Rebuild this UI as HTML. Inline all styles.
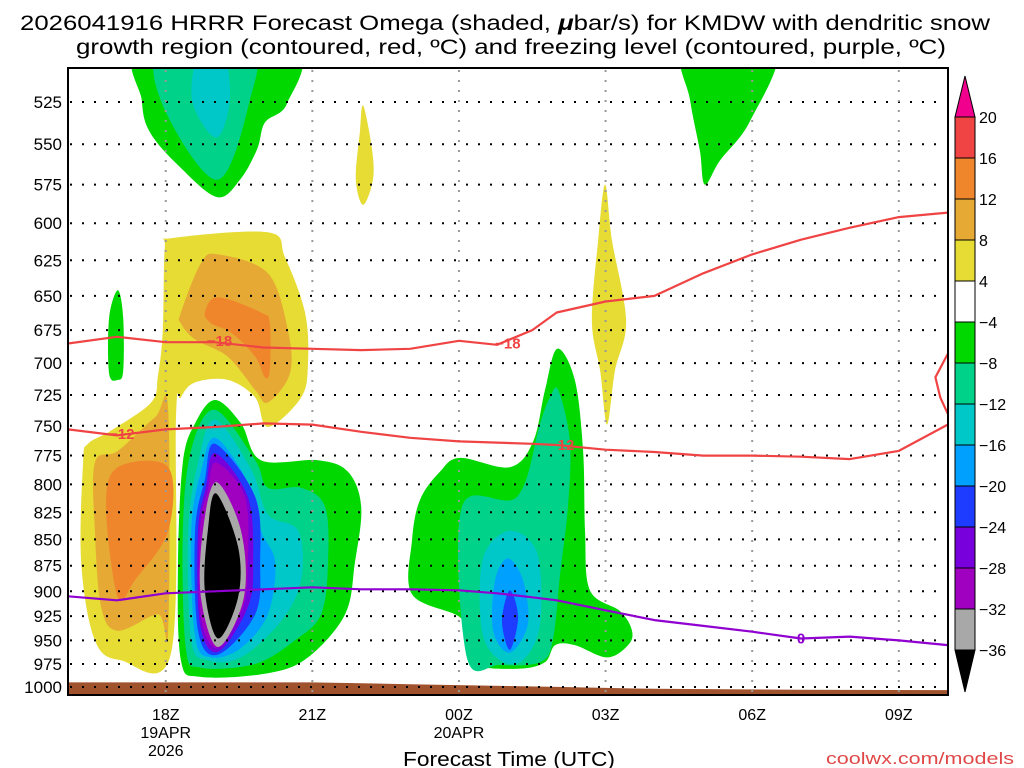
<!DOCTYPE html>
<html><head><meta charset="utf-8"><style>
html,body{margin:0;padding:0;background:#fff;width:1024px;height:768px;overflow:hidden}
svg text{font-family:"Liberation Sans",sans-serif}
</style></head><body>
<svg id="chart" width="1024" height="768" xmlns="http://www.w3.org/2000/svg">
<defs><clipPath id="plotclip"><rect x="68" y="68" width="880" height="627"/></clipPath></defs>
<text x="20" y="30" font-size="21" textLength="970" lengthAdjust="spacingAndGlyphs">2026041916 HRRR Forecast Omega (shaded, <tspan font-weight="bold" font-style="italic">μ</tspan>bar/s) for KMDW with dendritic snow</text>
<text x="76" y="54" font-size="21" textLength="870" lengthAdjust="spacingAndGlyphs">growth region (contoured, red, ºC) and freezing level (contoured, purple, ºC)</text>
<g id="shades" clip-path="url(#plotclip)"></g>
<g id="grid"></g>
<g id="lines" clip-path="url(#plotclip)"></g>
<rect x="68" y="68" width="880" height="627" fill="none" stroke="#000" stroke-width="2"/>
<g id="yticks"></g>
<g id="xticks"></g>
<text x="403" y="766" font-size="20" textLength="212" lengthAdjust="spacingAndGlyphs">Forecast Time (UTC)</text>
<text x="826" y="764" font-size="17" fill="#e04848" font-family="Liberation Mono, monospace" textLength="188" lengthAdjust="spacingAndGlyphs">coolwx.com/models</text>
<g id="cbar"></g>
</svg>
<script>
const NS="http://www.w3.org/2000/svg";
const hourMin=16, pMin=525;
function X(h){return 68+(h-hourMin)*48.87;}
function Y(p){return 102+907.8*Math.log(p/pMin);}
const pressureTicks=[525,550,575,600,625,650,675,700,725,750,775,800,825,850,875,900,925,950,975,1000];
const timeTicks=[18,21,24,27,30,33];
const timeLabels=["18Z","21Z","00Z","03Z","06Z","09Z"];
const dateLabels=[["19APR","2026"],[],["20APR"],[],[],[]];
const cbarLabels=["20","16","12","8","4","−4","−8","−12","−16","−20","−24","−28","−32","−36"];
const cbarColors=["#f04444","#f0862c","#e6aa34","#e6dc34","#ffffff","#00d800","#00d28a","#00c8c8","#00a0ff","#1e3cff","#7800dc","#a000c0","#a8a8a8"];
const shadeColors=["#e6dc34","#e6aa34","#f0862c","#00d800","#00d28a","#00c8c8","#00a0ff","#1e3cff","#7800dc","#a000c0","#a8a8a8","#000000"];
const yellowMain=[[16.31,781],[16.41,765],[16.88,754],[17.70,731],[17.84,710],[17.94,675],[17.98,616],[18.11,610],[20.09,606],[20.44,623],[20.85,662],[20.91,700],[20.77,727],[20.09,751],[19.83,727],[19.27,713],[18.60,715],[18.31,727],[18.21,743],[18.11,963],[17.08,971],[16.55,950],[16.27,872]];
const yellowTop=[[22.04,527],[22.22,553],[22.24,572],[22.04,588],[21.89,572],[21.97,543]];
const yellowRight=[[26.99,575],[27.13,611],[27.42,668],[27.19,706],[27.03,749],[26.89,706],[26.72,668],[26.85,611]];
const dkYellowUpper=[[18.31,662],[18.72,627],[19.07,621],[20.09,634],[20.50,675],[20.54,708],[20.09,731],[19.83,721],[19.27,695],[18.60,682],[18.31,670]];
const dkYellowLower=[[16.55,781],[17.02,771],[17.78,743],[18.05,737],[18.05,940],[17.84,923],[17.02,940],[16.68,916],[16.55,842]];
const orangeUpper=[[18.80,662],[19.07,651],[19.95,662],[20.13,670],[20.13,705],[20.03,711],[19.83,695],[19.34,677],[18.93,670]];
const orangeLower=[[17.02,785],[18.05,785],[18.05,842],[17.37,889],[17.02,906],[16.78,820]];
const greenSliver=[[17.02,646],[17.13,666],[17.13,706],[17.02,713],[16.84,708],[16.84,666]];
const greenTop=[[17.53,495],[17.51,524],[17.68,543],[18.29,564],[19.05,583],[19.52,572],[19.87,553],[20.03,537],[20.48,526],[20.60,495]];
const tealTop=[[17.92,495],[17.94,527],[19.05,572],[19.72,524],[19.72,495]];
const cyanTop=[[18.70,495],[18.54,524],[19.03,546],[19.31,524],[19.17,495]];
const greenTopRight=[[28.63,495],[28.73,524],[28.93,554],[29.03,575],[29.34,560],[29.96,536],[30.47,495]];
const greenMain=[[19.01,729],[19.54,748],[19.95,779],[21.12,779],[21.73,789],[22.00,820],[21.87,872],[21.67,923],[20.91,968],[20.09,985],[18.72,989],[18.31,971],[18.25,872],[18.35,781],[18.60,748]];
const tealMain=[[19.01,737],[19.83,779],[20.09,803],[20.77,803],[21.26,820],[21.32,872],[21.18,923],[20.64,950],[19.83,975],[18.72,979],[18.41,958],[18.35,842],[18.52,770]];
const cyanMain=[[19.01,745],[19.75,787],[20.09,827],[20.71,842],[20.77,889],[20.36,930],[19.54,968],[18.86,971],[18.52,950],[18.46,842],[18.66,781]];
const ltBlueMain=[[19.01,760],[19.68,798],[19.95,842],[20.24,872],[20.09,923],[19.54,958],[18.93,968],[18.60,946],[18.52,842],[18.72,789]];
const blueMain=[[19.01,765],[19.83,811],[19.93,872],[19.83,923],[19.07,965],[18.66,940],[18.60,842],[18.80,796]];
const purpleMain=[[19.01,773],[19.68,811],[19.79,872],[19.68,916],[19.07,962],[18.70,933],[18.66,842],[18.82,803]];
const magentaMain=[[19.03,781],[19.62,811],[19.68,872],[19.58,916],[19.07,958],[18.72,926],[18.70,842],[18.86,805]];
const grayMain=[[19.03,798],[19.54,842],[19.60,906],[19.07,957],[18.72,906],[18.76,842]];
const blackMain=[[19.03,808],[19.48,857],[19.48,906],[19.07,948],[18.80,899],[18.86,842]];
const greenRight=[[26.01,689],[26.37,713],[26.54,771],[26.58,842],[26.68,899],[27.30,920],[27.54,940],[27.46,955],[27.03,968],[26.37,955],[25.97,955],[25.76,973],[25.25,980],[24.33,976],[24.16,950],[24.02,926],[23.04,903],[23.04,851],[23.20,814],[23.61,789],[24.02,777],[25.04,785],[25.52,763],[25.76,721]];
const tealRight=[[26.03,721],[26.27,763],[26.23,820],[26.07,883],[25.92,950],[25.66,973],[24.84,976],[24.16,968],[24.06,820],[25.19,811],[25.66,748],[25.86,727]];
const cyanRight=[[25.04,842],[25.60,863],[25.66,933],[25.31,971],[24.84,971],[24.47,940],[24.49,868]];
const ltBlueRight=[[25.00,868],[25.31,889],[25.41,933],[25.04,963],[24.70,940],[24.74,889]];
const blueRight=[[25.04,899],[25.21,926],[25.04,960],[24.88,930]];
const lineHours=[16,17,18,19,20,21,22,23,24,24.78,25.5,26,27,28,29,30,31,32,33,34];
const minus18P=[685,680,684,684,688,689,690,689,683,686,675,662,654,650,634,621,611,603,596,593];
const minus18Edge=[[34,693],[33.75,711],[33.85,727],[34,740]];
const minus12P=[753,758,753,751,748,749,755,760,763,764,765,766,770,772,775,775,776,778,771,749];
const freezeP=[905,909,902,900,898,896,898,898,899,902,906,909,919,929,935,941,948,946,950,955];
const terrainHours=[16,21,22,23,24,25,26,27,28,31,34];
const terrainP=[995,995,996,997,998,999,1000,1001,1002,1003,1003.5];

function el(tag,attrs,parent){const e=document.createElementNS(NS,tag);for(const k in attrs)e.setAttribute(k,attrs[k]);parent.appendChild(e);return e;}
function smoothClosed(pts){
  const P=pts.map(d=>[X(d[0]),Y(d[1])]);const n=P.length;
  let s="M"+P[0][0].toFixed(1)+","+P[0][1].toFixed(1);
  for(let i=0;i<n;i++){
    const p0=P[(i-1+n)%n],p1=P[i],p2=P[(i+1)%n],p3=P[(i+2)%n];
    const c1=[p1[0]+(p2[0]-p0[0])/6,p1[1]+(p2[1]-p0[1])/6];
    const c2=[p2[0]-(p3[0]-p1[0])/6,p2[1]-(p3[1]-p1[1])/6];
    s+="C"+c1[0].toFixed(1)+","+c1[1].toFixed(1)+" "+c2[0].toFixed(1)+","+c2[1].toFixed(1)+" "+p2[0].toFixed(1)+","+p2[1].toFixed(1);
  }
  return s+"Z";
}
const shadesG=document.getElementById('shades');
const regions=[
 ["yellow-region-main",yellowMain,0],["yellow-region-top",yellowTop,0],["yellow-region-right",yellowRight,0],
 ["dark-yellow-region-upper",dkYellowUpper,1],["dark-yellow-region-lower",dkYellowLower,1],
 ["orange-region-upper",orangeUpper,2],["orange-region-lower",orangeLower,2],
 ["green-region-sliver",greenSliver,3],["green-region-top",greenTop,3],["teal-region-top",tealTop,4],["cyan-region-top",cyanTop,5],
 ["green-region-top-right",greenTopRight,3],
 ["green-region-main",greenMain,3],["teal-region-main",tealMain,4],["cyan-region-main",cyanMain,5],["lightblue-region-main",ltBlueMain,6],
 ["blue-region-main",blueMain,7],["purple-region-main",purpleMain,8],["magenta-region-main",magentaMain,9],["gray-region-main",grayMain,10],["black-region-main",blackMain,11],
 ["green-region-right",greenRight,3],["teal-region-right",tealRight,4],["cyan-region-right",cyanRight,5],["lightblue-region-right",ltBlueRight,6],["blue-region-right",blueRight,7]
];
regions.forEach(r=>{
  const e=el('path',{d:smoothClosed(r[1]),fill:shadeColors[r[2]]},shadesG);
  
  
});
let td="M"+X(terrainHours[0])+","+Y(1015);
terrainHours.forEach((h,i)=>{td+="L"+X(h).toFixed(1)+","+Y(terrainP[i]).toFixed(1);});
td+="L"+X(terrainHours[terrainHours.length-1])+","+Y(1015)+"Z";
const terr=el('path',{d:td,fill:"#a0522d"},shadesG);


const gridG=document.getElementById('grid');
pressureTicks.forEach(p=>{
  const g=el('line',{x1:70,x2:946,y1:Y(p),y2:Y(p),stroke:"#000","stroke-width":2,"stroke-dasharray":"2 10"},gridG);
  
  
});
timeTicks.forEach(h=>{
  const g=el('line',{x1:X(h),x2:X(h),y1:70,y2:693,stroke:"#999","stroke-width":2,"stroke-dasharray":"2 8"},gridG);
  
  
});
const linesG=document.getElementById('lines');
function poly(hs,ps,color,name){
  const pts=hs.map((h,i)=>X(h).toFixed(1)+","+Y(ps[i]).toFixed(1)).join(" ");
  const e=el('polyline',{points:pts,fill:"none",stroke:color,"stroke-width":2.2,"stroke-linejoin":"round"},linesG);
  
  
}
poly(lineHours,minus18P,"#f04444","minus18-isotherm");
poly(minus18Edge.map(d=>d[0]),minus18Edge.map(d=>d[1]),"#f04444","minus18-isotherm-edge");
poly(lineHours,minus12P,"#f04444","minus12-isotherm");
poly(lineHours,freezeP,"#9000d0","freezing-level");
function clabel(txt,h,p,color,name){
  const t=el('text',{x:X(h),y:Y(p)+5,"text-anchor":"middle","font-size":15,"font-weight":"bold",fill:color},linesG);
  t.textContent=txt;
  
  
}
clabel("−18",19.1,683,"#f04444","label-minus18-a");
clabel("−18",25.0,685,"#f04444","label-minus18-b");
clabel("−12",17.1,757,"#f04444","label-minus12-a");
clabel("−12",26.1,766,"#f04444","label-minus12-b");
clabel("0",31,948,"#9000d0","label-freezing");
const ytG=document.getElementById('yticks');
pressureTicks.forEach(p=>{
  const t=el('text',{x:62,y:Y(p)+6,"text-anchor":"end","font-size":17},ytG);
  t.textContent=p;
  
  
});
const xtG=document.getElementById('xticks');
timeTicks.forEach((h,i)=>{
  const t=el('text',{x:X(h),y:720,"text-anchor":"middle","font-size":16},xtG);
  t.textContent=timeLabels[i];
  
  
  dateLabels[i].forEach((d,j)=>{
    const s=el('text',{x:X(h),y:738+j*18,"text-anchor":"middle","font-size":16},xtG);
    s.textContent=d;
    
    
  });
});
const cbG=document.getElementById('cbar');
const cx=955,cw=20,ct=117,step=41;
const topArrow=el('polygon',{points:`${cx},${ct} ${cx+cw},${ct} ${cx+cw/2},${ct-41}`,fill:"#f0008c",stroke:"#000","stroke-width":1},cbG);


cbarColors.forEach((c,i)=>{
  const r=el('rect',{x:cx,y:ct+i*step,width:cw,height:step,fill:c,stroke:"#000","stroke-width":1},cbG);
  
  
});
const botY=ct+cbarColors.length*step;
const botArrow=el('polygon',{points:`${cx},${botY} ${cx+cw},${botY} ${cx+cw/2},${botY+42}`,fill:"#000",stroke:"#000","stroke-width":1},cbG);


cbarLabels.forEach((l,i)=>{
  const t=el('text',{x:979,y:ct+i*step+6,"font-size":16},cbG);
  t.textContent=l;
  
  
});
</script>
</body></html>
